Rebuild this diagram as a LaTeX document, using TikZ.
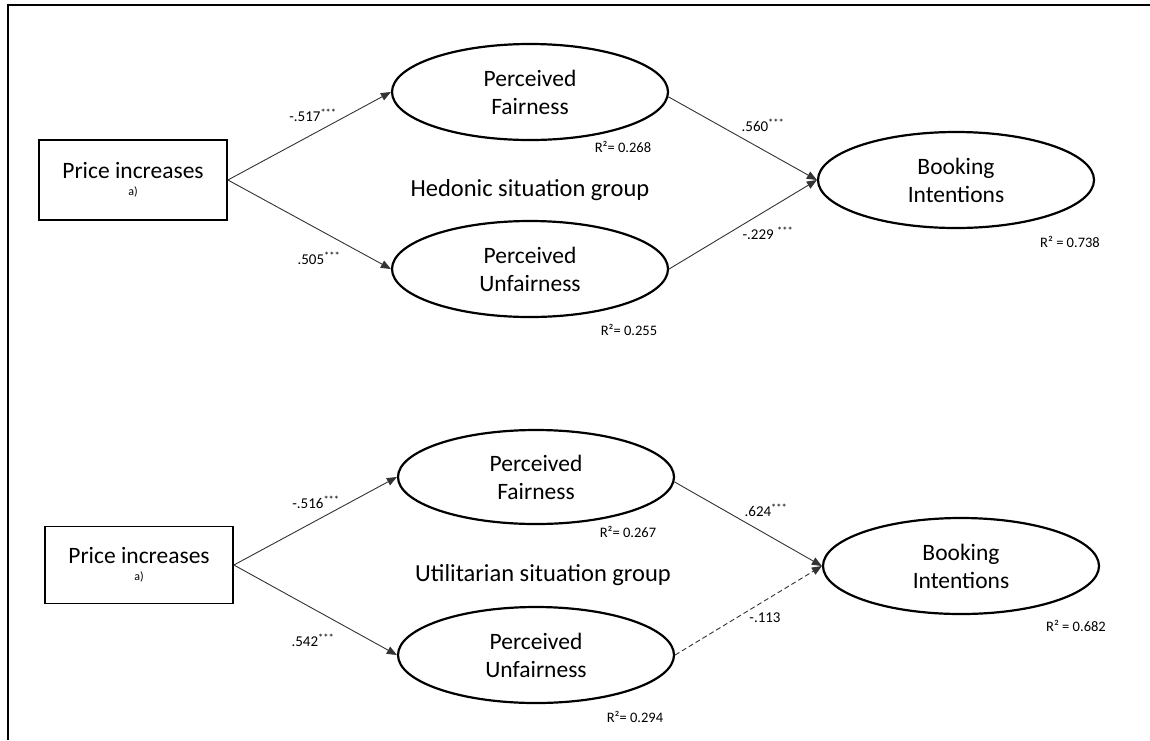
\documentclass[tikz,border=0pt]{standalone}
\usepackage{fontspec}
\setmainfont{Carlito}
\usetikzlibrary{shapes.geometric,arrows.meta}
\begin{document}
\begin{tikzpicture}[x=1pt,y=-1pt,
  latent/.style={ellipse,draw,line width=2.2pt,minimum width=276pt,minimum height=96pt,inner sep=0pt,align=center,font=\fontsize{23.5}{28}\selectfont},
  obs/.style={rectangle,draw,line width=1.8pt,minimum width=188pt,minimum height=80pt,inner sep=0pt,align=center,font=\fontsize{23.5}{21}\selectfont},
  conn/.style={draw=black!80,line width=0.9pt,-{Triangle[length=10pt,width=8pt]}},
  dconn/.style={conn,dash pattern=on 5pt off 3pt},
  coef/.style={font=\fontsize{15}{16}\selectfont,inner sep=0pt},
  rsq/.style={font=\fontsize{14.5}{16}\selectfont,inner sep=0pt},
  grp/.style={font=\fontsize{24.5}{26}\selectfont,inner sep=0pt}]
\useasboundingbox (0,0) rectangle (1150,740);
\fill[white] (0,0) rectangle (1150,740);
\draw[line width=2pt] (7.5,740) -- (7.5,5) -- (1150,5);
\newcommand{\aNote}{\\[-4pt]{\fontsize{12}{12}\selectfont a)}}
% top group
\node[obs] (pi1) at (133,180) {Price increases\aNote};
\node[latent] (pf1) at (530,92) {Perceived\\Fairness};
\node[latent] (pu1) at (530,269) {Perceived\\Unfairness};
\node[latent] (bi1) at (956,180) {Booking\\Intentions};
\node[grp] (g1) at (530,190) {Hedonic situation group};
\node[rsq] (rpf1) at (623,147) {R²= 0.268};
\node[rsq] (rpu1) at (629,330) {R²= 0.255};
\node[rsq] (rbi1) at (1070,242) {R² = 0.738};
\draw[conn] (pi1.east) -- (pf1.west);
\draw[conn] (pi1.east) -- (pu1.west);
\draw[conn] (pf1.-2) -- (bi1.west);
\draw[conn] (pu1.east) -- (bi1.west);
\node[coef] (c1) at (313,115) {-.517\textsuperscript{***}};
\node[coef] (c2) at (319,258) {.505\textsuperscript{***}};
\node[coef] (c3) at (763,125) {.560\textsuperscript{***}};
\node[coef] (c4) at (768,233) {-.229 \textsuperscript{***}};
% bottom group
\node[obs,minimum height=77pt] (pi2) at (139,565) {Price increases\aNote};
\node[latent,minimum height=94pt] (pf2) at (536,477) {Perceived\\Fairness};
\node[latent] (pu2) at (536,655) {Perceived\\Unfairness};
\node[latent] (bi2) at (961,566) {Booking\\Intentions};
\node[grp] (g2) at (543,575) {Utilitarian situation group};
\node[rsq] (rpf2) at (628,532) {R²= 0.267};
\node[rsq] (rpu2) at (635,717) {R²= 0.294};
\node[rsq] (rbi2) at (1076,626) {R² = 0.682};
\draw[conn] (pi2.east) -- (pf2.west);
\draw[conn] (pi2.east) -- (pu2.west);
\draw[conn] (pf2.-2) -- (bi2.west);
\draw[dconn] (pu2.east) -- (bi2.west);
\node[coef] (c5) at (316,502) {-.516\textsuperscript{***}};
\node[coef] (c6) at (313,640) {.542\textsuperscript{***}};
\node[coef] (c7) at (766,510) {.624\textsuperscript{***}};
\node[coef] (c8) at (765,618) {-.113};
\end{tikzpicture}
\end{document}
